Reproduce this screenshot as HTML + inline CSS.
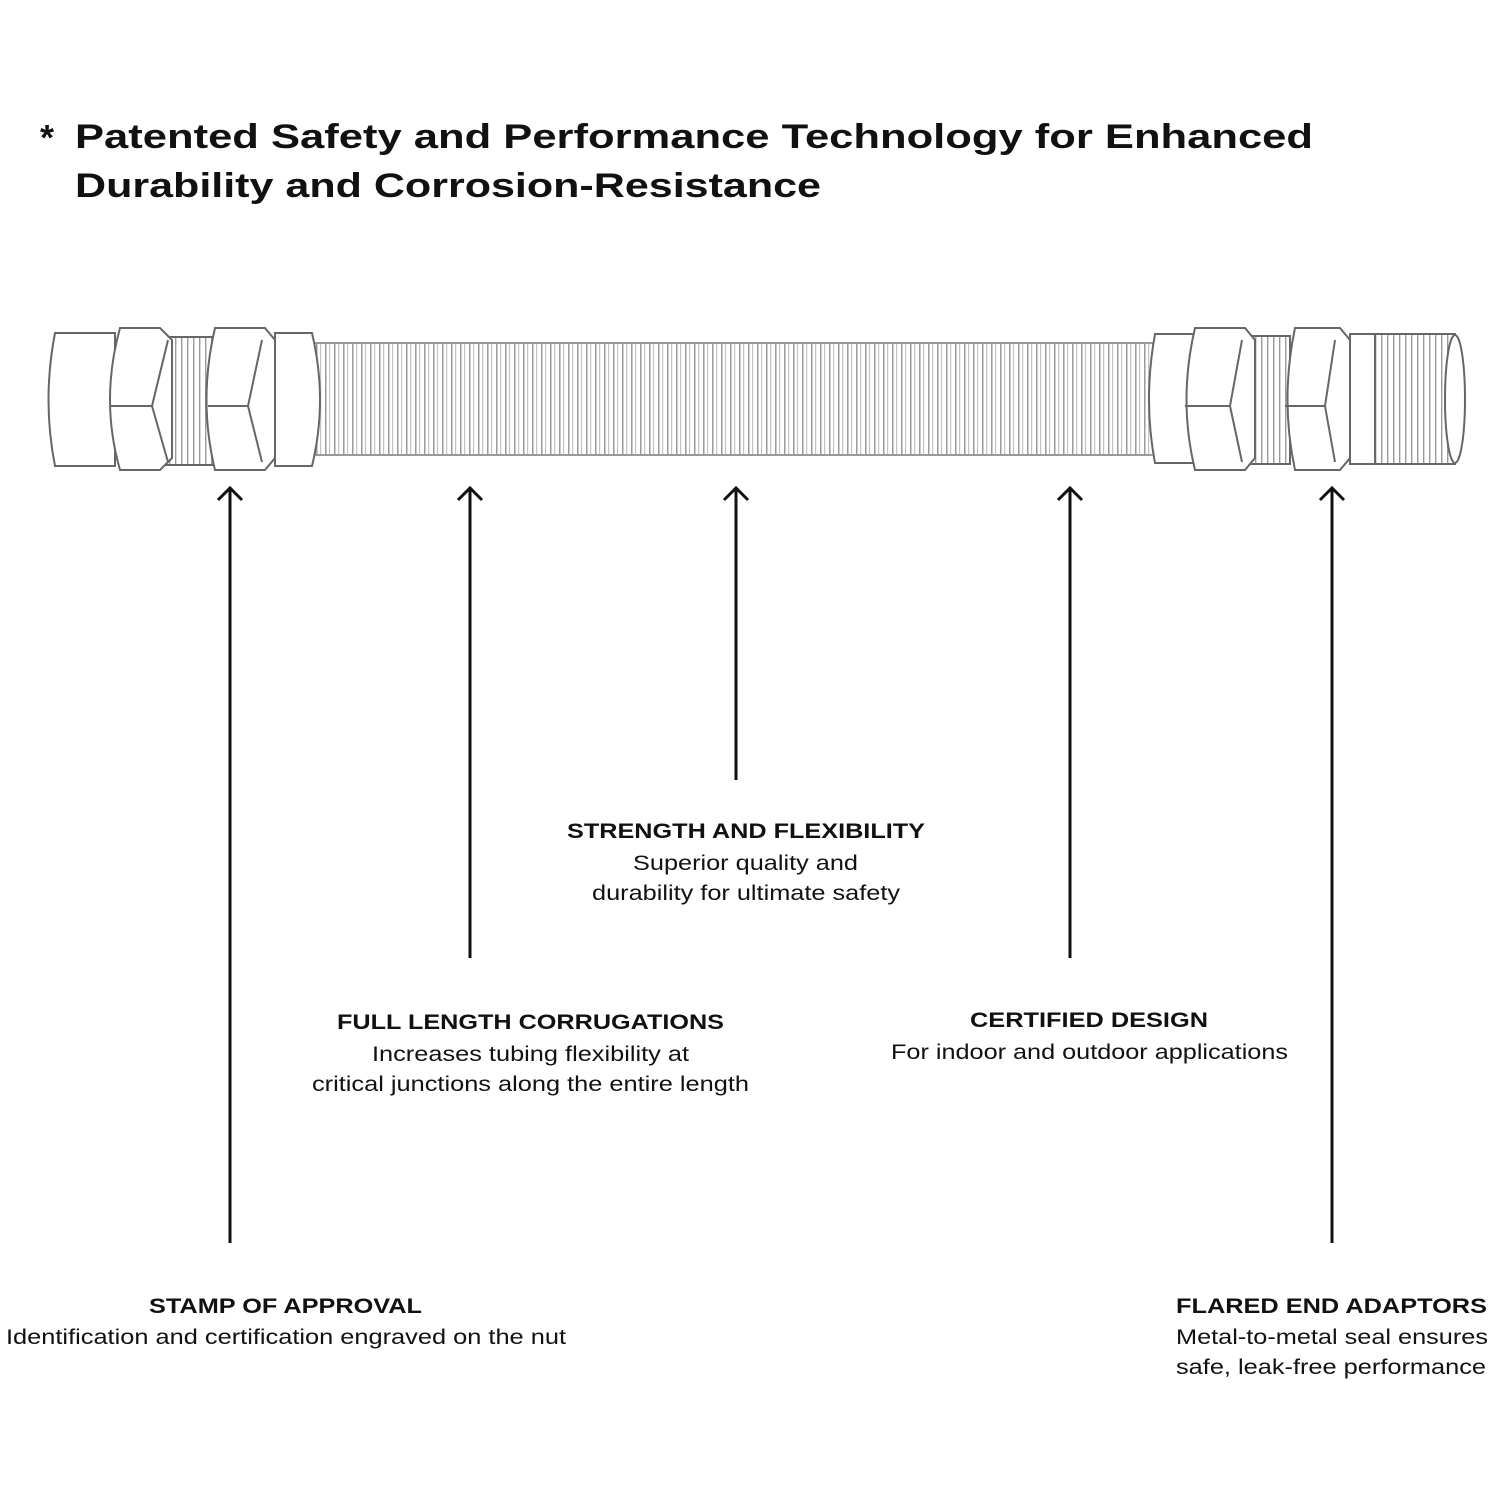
<!DOCTYPE html>
<html><head><meta charset="utf-8"><style>html,body{margin:0;padding:0;background:#fff}svg{display:block}</style></head>
<body>
<svg width="1500" height="1500" viewBox="0 0 1500 1500" xmlns="http://www.w3.org/2000/svg" font-family="Liberation Sans, Arial, sans-serif">
<defs>
<pattern id="corr" x="0" y="0" width="9" height="10" patternUnits="userSpaceOnUse">
<rect width="9" height="10" fill="#fff"/>
<rect x="1" width="1.5" height="10" fill="#9a9a9a"/>
<rect x="5" width="1.2" height="10" fill="#c4c4c4"/>
</pattern>
<pattern id="thr" x="0" y="0" width="6" height="10" patternUnits="userSpaceOnUse">
<rect width="6" height="10" fill="#fff"/>
<rect x="1" width="1.4" height="10" fill="#9a9a9a"/>
</pattern>
</defs>

<text x="40" y="150" font-size="36" font-weight="bold" fill="#111">*</text>
<text x="75" y="148" font-size="34" font-weight="bold" fill="#111" textLength="1238" lengthAdjust="spacingAndGlyphs">Patented Safety and Performance Technology for Enhanced</text>
<text x="75" y="197" font-size="34" font-weight="bold" fill="#111" textLength="746" lengthAdjust="spacingAndGlyphs">Durability and Corrosion-Resistance</text>

<g stroke="#666" stroke-width="2" fill="#fff">
<!-- hose -->
<rect x="300" y="343" width="860" height="112" rx="10" fill="url(#corr)" stroke="#999"/>
<!-- left fitting -->
<path d="M55 333 H115 V466 H55 Q42 400 55 333 Z"/>
<rect x="160" y="337" width="55" height="128" fill="url(#thr)"/>
<path d="M120 328 H160 L172 340 V458 L160 470 H120 Q100 400 120 328 Z"/>
<line x1="110" y1="406" x2="152" y2="406"/>
<path d="M152 406 L168 340 M152 406 L168 462"/>
<path d="M215 328 H265 L275 340 V458 L265 470 H215 Q198 400 215 328 Z"/>
<line x1="208" y1="406" x2="248" y2="406"/>
<path d="M248 406 L262 340 M248 406 L262 462"/>
<path d="M275 333 H312 Q328 400 312 466 H275 Z"/>
<!-- right fitting -->
<path d="M1155 334 H1195 V463 H1155 Q1143 400 1155 334 Z"/>
<rect x="1240" y="336" width="50" height="128" fill="url(#thr)"/>
<path d="M1195 328 H1245 L1255 340 V458 L1245 470 H1195 Q1178 400 1195 328 Z"/>
<line x1="1185" y1="406" x2="1230" y2="406"/>
<path d="M1230 406 L1242 340 M1230 406 L1242 462"/>
<path d="M1295 328 H1340 L1350 340 V458 L1340 470 H1295 Q1280 400 1295 328 Z"/>
<line x1="1285" y1="406" x2="1325" y2="406"/>
<path d="M1325 406 L1335 340 M1325 406 L1335 462"/>
<rect x="1350" y="334" width="30" height="130"/>
<rect x="1375" y="334" width="80" height="130" fill="url(#thr)"/>
<ellipse cx="1455" cy="399" rx="10" ry="64"/>
</g>

<g stroke="#111" stroke-width="3" fill="none">
<line x1="230" y1="1243" x2="230" y2="488"/><path d="M218 500 L230 488 L242 500"/>
<line x1="470" y1="958" x2="470" y2="488"/><path d="M458 500 L470 488 L482 500"/>
<line x1="736" y1="780" x2="736" y2="488"/><path d="M724 500 L736 488 L748 500"/>
<line x1="1070" y1="958" x2="1070" y2="488"/><path d="M1058 500 L1070 488 L1082 500"/>
<line x1="1332" y1="1243" x2="1332" y2="488"/><path d="M1320 500 L1332 488 L1344 500"/>
</g>

<g fill="#111">
<text x="567" y="838" font-size="21" font-weight="bold" textLength="358" lengthAdjust="spacingAndGlyphs">STRENGTH AND FLEXIBILITY</text>
<text x="633" y="870" font-size="21" textLength="225" lengthAdjust="spacingAndGlyphs">Superior quality and</text>
<text x="592" y="900" font-size="21" textLength="308" lengthAdjust="spacingAndGlyphs">durability for ultimate safety</text>

<text x="337" y="1029" font-size="21" font-weight="bold" textLength="387" lengthAdjust="spacingAndGlyphs">FULL LENGTH CORRUGATIONS</text>
<text x="372" y="1061" font-size="21" textLength="317" lengthAdjust="spacingAndGlyphs">Increases tubing flexibility at</text>
<text x="312" y="1091" font-size="21" textLength="437" lengthAdjust="spacingAndGlyphs">critical junctions along the entire length</text>

<text x="970" y="1027" font-size="21" font-weight="bold" textLength="238" lengthAdjust="spacingAndGlyphs">CERTIFIED DESIGN</text>
<text x="891" y="1059" font-size="21" textLength="397" lengthAdjust="spacingAndGlyphs">For indoor and outdoor applications</text>

<text x="149" y="1313" font-size="21" font-weight="bold" textLength="273" lengthAdjust="spacingAndGlyphs">STAMP OF APPROVAL</text>
<text x="6" y="1344" font-size="21" textLength="560" lengthAdjust="spacingAndGlyphs">Identification and certification engraved on the nut</text>

<text x="1176" y="1313" font-size="21" font-weight="bold" textLength="311" lengthAdjust="spacingAndGlyphs">FLARED END ADAPTORS</text>
<text x="1176" y="1344" font-size="21" textLength="312" lengthAdjust="spacingAndGlyphs">Metal-to-metal seal ensures</text>
<text x="1176" y="1374" font-size="21" textLength="310" lengthAdjust="spacingAndGlyphs">safe, leak-free performance</text>
</g>
</svg>
</body></html>
